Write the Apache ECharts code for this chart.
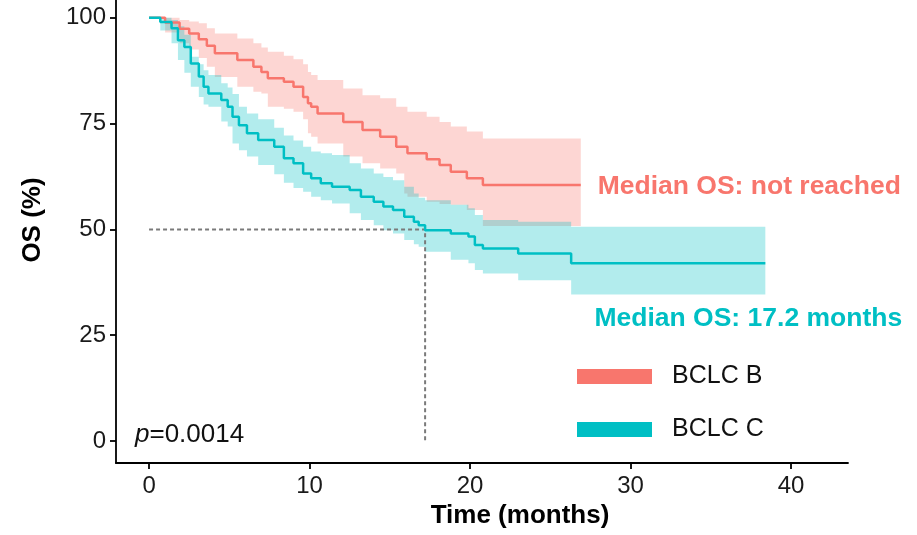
<!DOCTYPE html>
<html>
<head>
<meta charset="utf-8">
<script src="https://cdn.jsdelivr.net/npm/echarts@6/dist/echarts.min.js"></script>
<style>
  html, body { margin: 0; padding: 0; background: #ffffff; }
  #chart { width: 917px; height: 535px; }
</style>
</head>
<body>
<div id="chart"></div>
<script>
// Kaplan-Meier overall survival by BCLC stage, with 95% confidence bands.
const groupNames = ['BCLC B', 'BCLC C'];
const groupColors = ['#F8766D', '#00BFC4'];

// BCLC B: event times (months), survival (%), lower / upper confidence limits (%)
const timeB  = [0, 1.0, 1.9, 2.5, 3.1, 3.6, 4.1, 5.5, 6.5, 7.0, 7.4, 8.4, 9.0, 9.6, 9.9, 10.1, 10.5, 12.1, 13.3, 14.4, 15.4, 15.9, 16.1, 17.3, 18.1, 18.8, 19.8, 20.8, 26.9];
const survB  = [100, 98.9, 97.4, 96.3, 94.9, 93.4, 91.6, 90.0, 88.4, 87.2, 85.7, 84.9, 83.7, 81.3, 79.8, 79.0, 77.4, 75.4, 73.5, 71.9, 69.5, 69.5, 68.0, 66.6, 65.2, 63.6, 62.1, 60.5, 60.5];
const lowerB = [100, 96.5, 94.0, 92.5, 90.5, 88.4, 86.0, 83.7, 82.5, 82.1, 79.0, 78.5, 77.8, 76.0, 72.7, 71.9, 70.3, 67.2, 65.6, 64.4, 63.2, 58.5, 57.7, 56.5, 56.0, 55.8, 54.6, 50.8, 50.8];
const upperB = [100, 100, 99.5, 99.1, 98.7, 97.5, 96.3, 95.1, 94.0, 93.0, 92.0, 91.0, 90.2, 89.0, 87.2, 86.5, 85.3, 83.3, 81.7, 81.0, 79.0, 79.0, 77.8, 76.6, 75.4, 74.3, 73.1, 71.5, 71.5];

// BCLC C: event times (months), survival (%), lower / upper confidence limits (%)
const timeC  = [0, 0.7, 1.4, 1.8, 2.2, 2.6, 3.1, 3.4, 3.7, 4.5, 4.9, 5.2, 5.6, 6.1, 6.8, 7.8, 8.4, 9.0, 9.6, 10.1, 10.7, 11.4, 12.5, 13.2, 14.0, 14.6, 15.2, 15.9, 16.5, 16.8, 17.2, 18.8, 19.9, 20.3, 20.8, 23.0, 26.3, 38.4];
const survC  = [100, 99.0, 97.5, 94.7, 93.1, 89.2, 86.1, 83.7, 82.1, 80.6, 79.0, 76.6, 74.6, 72.7, 71.1, 69.5, 66.8, 65.6, 63.2, 62.1, 60.9, 60.1, 59.3, 57.7, 56.5, 55.4, 54.6, 53.0, 51.8, 51.0, 49.8, 49.0, 48.3, 46.3, 45.5, 44.3, 42.0, 42.0];
const lowerC = [100, 97.0, 94.0, 90.0, 87.0, 83.7, 81.3, 79.5, 79.0, 75.5, 74.3, 70.3, 68.7, 67.2, 65.2, 63.0, 61.0, 59.8, 58.9, 57.7, 56.9, 56.1, 53.8, 52.2, 51.0, 49.8, 49.0, 47.5, 46.5, 45.9, 44.7, 42.8, 42.0, 40.4, 39.6, 38.0, 34.6, 34.6];
const upperC = [100, 100, 99.5, 98.0, 96.0, 90.8, 89.0, 87.6, 86.5, 84.5, 83.5, 82.0, 79.0, 77.4, 76.0, 74.0, 72.2, 71.0, 69.5, 68.4, 68.0, 67.6, 65.6, 64.4, 63.2, 62.4, 61.6, 60.1, 58.5, 57.5, 56.9, 55.8, 55.0, 53.4, 52.2, 51.8, 50.6, 50.6];

// Median survival of BCLC C (months) and log-rank p value
const medianC = 17.2;
const pValue = '0.0014';

// Axis tick labels
const xTicks = [0, 10, 20, 30, 40];
const yTicks = [0, 25, 50, 75, 100];

// Annotation texts anchored in data coordinates
const annotations = [
  { text: 'Median OS: not reached', x: 27.95, y: 60.1, color: groupColors[0] },
  { text: 'Median OS: 17.2 months', x: 27.75, y: 29.0, color: groupColors[1] }
];

const FONT = '"Liberation Sans", Arial, Helvetica, sans-serif';

function bandSeries(name, t, lo, hi, color) {
  return {
    name: name + ' CI',
    type: 'custom',
    silent: true,
    z: 1,
    data: t.map((x, i) => [x, lo[i], hi[i]]),
    encode: { x: 0, y: [1, 2] },
    renderItem: function (params, api) {
      if (params.dataIndex !== 0) return { type: 'group', children: [] };
      const pts = [];
      for (let i = 0; i < t.length; i++) {
        pts.push(api.coord([t[i], hi[i]]));
        if (i + 1 < t.length) pts.push(api.coord([t[i + 1], hi[i]]));
      }
      for (let i = t.length - 1; i >= 0; i--) {
        if (i + 1 < t.length) pts.push(api.coord([t[i + 1], lo[i]]));
        pts.push(api.coord([t[i], lo[i]]));
      }
      return {
        type: 'polygon',
        shape: { points: pts },
        style: { fill: color, opacity: 0.3 }
      };
    }
  };
}

function curveSeries(name, t, s, color) {
  return {
    name: name,
    type: 'line',
    step: 'end',
    z: 3,
    symbol: 'none',
    color: color,
    lineStyle: { color: color, width: 2.5 },
    data: t.map((x, i) => [x, s[i]])
  };
}

const chart = echarts.init(document.getElementById('chart'), null, { renderer: 'canvas' });

const axisLineStyle = { color: '#000000', width: 1.8 };

chart.setOption({
  backgroundColor: '#ffffff',
  animation: false,
  grid: { left: 116, right: 69, top: 0, bottom: 72 },
  legend: {
    data: groupNames,
    orient: 'vertical',
    left: 577,
    top: 364,
    padding: 0,
    itemWidth: 75,
    itemHeight: 15,
    itemGap: 28,
    icon: 'rect',
    selectedMode: false,
    textStyle: { fontFamily: FONT, fontSize: 25, color: '#111111', padding: [0, 0, 0, 15] }
  },
  xAxis: {
    type: 'value',
    min: -2.06,
    max: 43.55,
    name: 'Time (months)',
    nameLocation: 'middle',
    nameGap: 40,
    nameTextStyle: { fontFamily: FONT, fontSize: 26, fontWeight: 'bold', color: '#000000', padding: [0, 0, 0, 76] },
    axisLine: { show: true, onZero: false, lineStyle: axisLineStyle },
    axisTick: { show: true, length: 6, lineStyle: axisLineStyle, customValues: xTicks },
    axisLabel: { fontFamily: FONT, fontSize: 24, color: '#1a1a1a', margin: 11, customValues: xTicks },
    splitLine: { show: false }
  },
  yAxis: {
    type: 'value',
    min: -5.2,
    max: 104.2,
    name: 'OS (%)',
    nameLocation: 'middle',
    nameRotate: 90,
    nameGap: 70,
    nameTextStyle: { fontFamily: FONT, fontSize: 26, fontWeight: 'bold', color: '#000000', padding: [0, 0, 0, 23] },
    axisLine: { show: true, onZero: false, lineStyle: axisLineStyle },
    axisTick: { show: true, length: 6, lineStyle: axisLineStyle, customValues: yTicks },
    axisLabel: { fontFamily: FONT, fontSize: 24, color: '#1a1a1a', margin: 10, customValues: yTicks },
    splitLine: { show: false }
  },
  series: [
    bandSeries(groupNames[0], timeB, lowerB, upperB, groupColors[0]),
    bandSeries(groupNames[1], timeC, lowerC, upperC, groupColors[1]),
    curveSeries(groupNames[0], timeB, survB, groupColors[0]),
    curveSeries(groupNames[1], timeC, survC, groupColors[1]),
    {
      name: 'median',
      type: 'line',
      z: 2,
      symbol: 'none',
      silent: true,
      lineStyle: { color: '#7a7a7a', width: 2, type: [4, 3] },
      data: [[0, 50], [medianC, 50], [medianC, 0]]
    }
  ]
});

const graphics = annotations.map(a => {
  const p = chart.convertToPixel({ gridIndex: 0 }, [a.x, a.y]);
  return {
    type: 'text',
    x: p[0],
    y: p[1],
    style: {
      text: a.text,
      fill: a.color,
      font: 'bold 26.5px ' + FONT,
      textAlign: 'left',
      textVerticalAlign: 'middle'
    }
  };
});
graphics.push({
  type: 'text',
  x: 135,
  y: 435,
  style: {
    text: '{i|p}=' + pValue,
    textVerticalAlign: 'middle',
    rich: {
      i: { fontFamily: FONT, fontSize: 26, fontStyle: 'italic', fill: '#111111' }
    },
    fontFamily: FONT,
    fontSize: 26,
    fill: '#111111'
  }
});
chart.setOption({ graphic: graphics });
</script>
</body>
</html>
